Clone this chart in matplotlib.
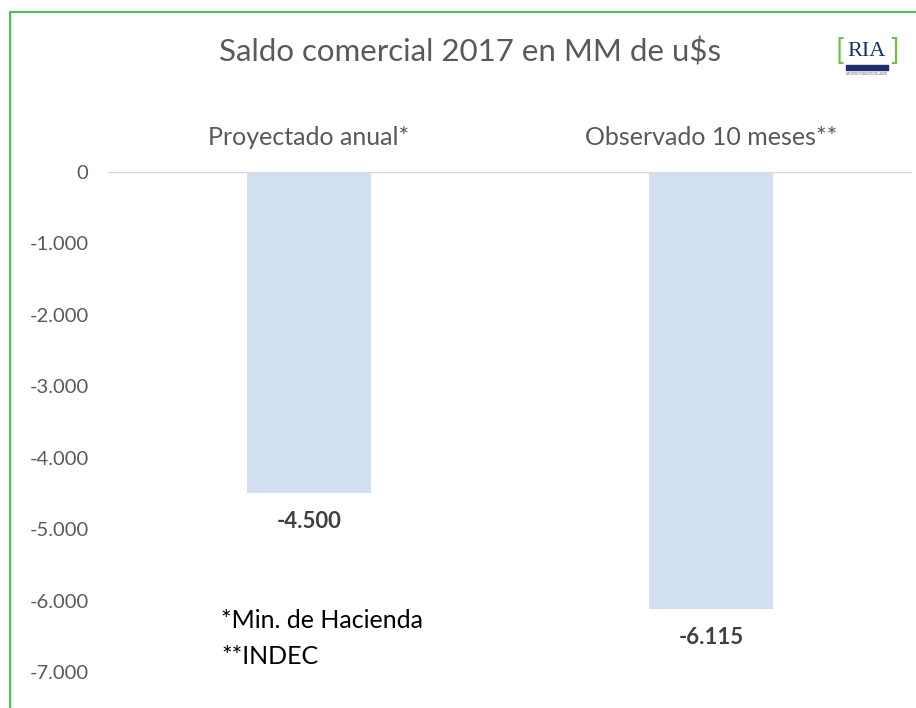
import matplotlib.pyplot as plt
from matplotlib.lines import Line2D
from matplotlib.patches import Rectangle

categorias = ['Proyectado anual*', 'Observado 10 meses**']
valores = [-4500, -6115]
etiquetas = ['-4.500', '-6.115']
ticks = [0, -1000, -2000, -3000, -4000, -5000, -6000, -7000]
tick_labels = ['0', '-1.000', '-2.000', '-3.000', '-4.000', '-5.000', '-6.000', '-7.000']

plt.rcParams['font.family'] = ['Lato', 'DejaVu Sans']

W, H = 916, 708
fig = plt.figure(figsize=(W / 100, H / 100), dpi=100)

# borde verde
fig.add_artist(Line2D([10 / W, 10 / W], [0, 1 - 12 / H], color='#4cc25a', lw=1.5))
fig.add_artist(Line2D([10 / W, 1], [1 - 12 / H, 1 - 12 / H], color='#4cc25a', lw=1.5))

ax = fig.add_axes([108 / W, 36 / H, 804 / W, 500 / H])
x = [0, 1]
ax.bar(x, valores, width=0.31, color='#d2dff0')
ax.set_xlim(-0.5, 1.5)
ax.set_ylim(-7000, 0)
ax.axhline(0, color='#d9d9d9', lw=1)
for s in ax.spines.values():
    s.set_visible(False)
ax.set_xticks([])
ax.set_yticks(ticks)
ax.set_yticklabels(tick_labels, color='#595959', fontsize=14.5)
ax.tick_params(axis='y', length=0, pad=14)

for xi, v, lab in zip(x, valores, etiquetas):
    ax.text(xi, v - 400, lab, ha='center', va='center', fontsize=16,
            fontweight='bold', color='#404040')
for xi, c in zip(x, categorias):
    ax.text(xi, 480, c, ha='center', va='center', fontsize=18, color='#595959')

fig.text(470 / W, 1 - 52 / H, 'Saldo comercial 2017 en MM de u$s',
         ha='center', va='center', fontsize=22.5, color='#595959')
fig.text(221 / W, 1 - 621 / H, '*Min. de Hacienda', ha='left', va='center',
         fontsize=18, color='black')
fig.text(221 / W, 1 - 656 / H, '**INDEC', ha='left', va='center',
         fontsize=18, color='black')

# logo RIA
fig.text(867 / W, 1 - 51 / H, 'RIA', ha='center', va='center', fontsize=16,
         family='Liberation Serif', color='#1f2f6b')
fig.text(840 / W, 1 - 51 / H, '[', ha='center', va='center', fontsize=20,
         color='#6cc04a')
fig.text(894 / W, 1 - 51 / H, ']', ha='center', va='center', fontsize=20,
         color='#6cc04a')
fig.add_artist(Rectangle((846 / W, 1 - 70 / H), 42 / W, 5 / H, color='#1f2f6b',
                         transform=fig.transFigure))
fig.text(867 / W, 1 - 74 / H, 'ASUNTOS PÚBLICOS DEL AGRO', ha='center', va='center',
         fontsize=2, color='#555555')

fig.savefig('out.png', dpi=100)
